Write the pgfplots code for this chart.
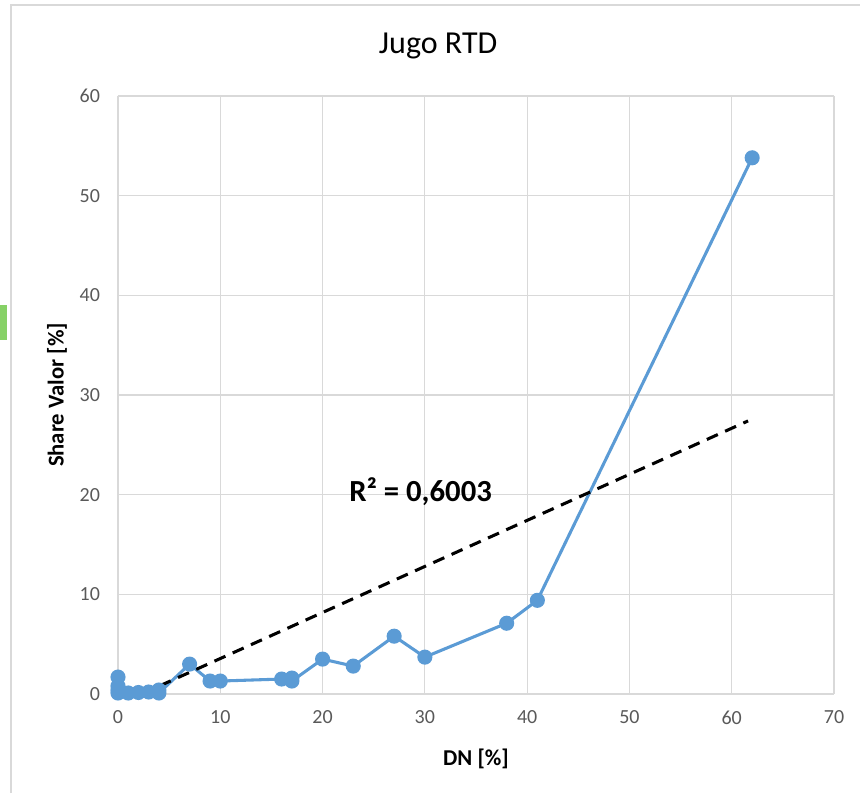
\documentclass[border=0pt]{standalone}
\usepackage{fontspec}
\setmainfont{Carlito}
\usepackage{pgfplots}
\pgfplotsset{compat=1.18}
\definecolor{serie}{HTML}{5B9BD5}
\definecolor{gridc}{HTML}{D9D9D9}
\definecolor{tickc}{HTML}{595959}
\begin{document}
\begin{tikzpicture}
\path[use as bounding box] (-88.5pt,-74.25pt) rectangle (556.5pt,520.5pt);
% chart frame (spreadsheet context)
\draw[gridc, line width=1pt] (-80.25pt,-74.25pt) -- (-80.25pt,516.75pt) -- (556.5pt,516.75pt);
\fill[green!60!lime!70!black!60!white] (-88.5pt,265.5pt) rectangle (-83.5pt,291.75pt);
\begin{axis}[
  scale only axis,
  width=537pt, height=448.5pt,
  xmin=0, xmax=70, ymin=0, ymax=60,
  xtick={0,10,...,70}, ytick={0,10,...,60},
  grid=major,
  grid style={gridc, line width=0.8pt},
  axis line style={draw=none},
  major tick length=0pt,
  /pgf/number format/assume math mode=true,
  tick label style={font=\fontsize{15}{18}\selectfont, text=tickc},
  yticklabel style={xshift=-10pt},
  xticklabel style={yshift=-9pt},
  xlabel={DN [\%]},
  ylabel={Share Valor [\%]},
  label style={font=\fontsize{17}{20}\selectfont\bfseries},
  xlabel style={at={(axis description cs:0.5,-0.109)}, anchor=center},
  ylabel style={at={(axis description cs:-0.085,0.5)}, anchor=center},
  clip=false,
]
\draw[gridc, line width=1pt] (axis cs:0,0) -- (axis cs:70,0);
\addplot[serie, line width=2.3pt, mark=*, mark size=4.5pt, mark options={fill=serie, draw=serie}]
coordinates {
(0,1.7) (0,0.8) (0,0.4) (0,0.1) (1,0.1) (2,0.15) (3,0.2) (4,0.4) (4,0.1)
(7,3.0) (9,1.3) (10,1.3) (16,1.5) (17,1.6) (17,1.3) (20,3.5) (23,2.8)
(27,5.8) (30,3.7) (38,7.1) (41,9.4) (62,53.8)
};
\addplot[black, line width=2.3pt, dash pattern=on 9pt off 6pt] coordinates {(2.3,0) (61.6,27.4)};
\node[anchor=west, font=\fontsize{23}{26}\selectfont\bfseries, inner sep=0pt] at (axis cs:22.6,20.3) {R² = 0,6003};
\node[font=\fontsize{24}{28}\selectfont, inner sep=0pt] at (axis cs:31.3,65.0) {Jugo RTD};
\end{axis}
\end{tikzpicture}
\end{document}
